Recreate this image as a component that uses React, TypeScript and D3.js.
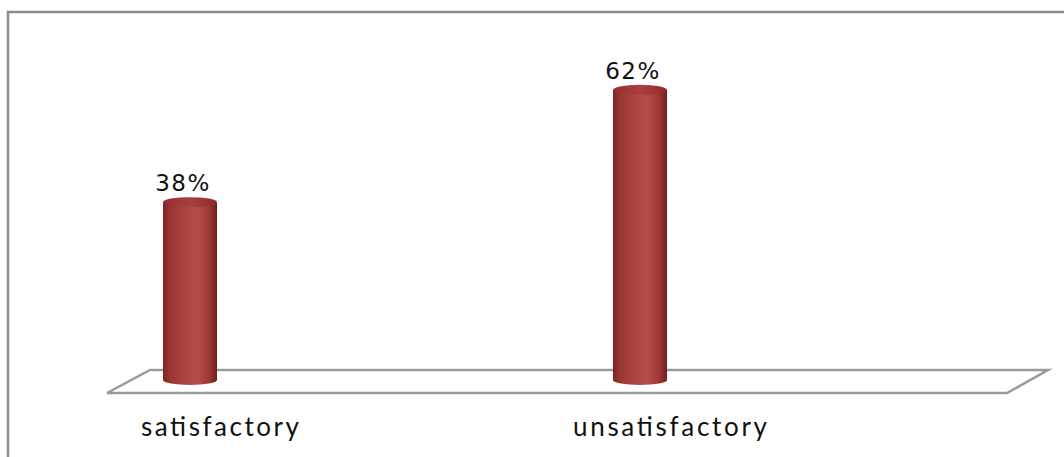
import React from "react";
import * as d3 from "d3";

const categories = ["satisfactory", "unsatisfactory"];
const values = [38, 62];
const valueLabels = ["38%", "62%"];

const W = 1064;
const H = 457;
const BASE_Y = 380;
const RX = 27;
const RY = 5;

export default function App() {
  const x = d3.scalePoint<string>().domain(categories).range([190, 640]);
  const y = d3.scaleLinear().domain([0, 70]).range([BASE_Y, BASE_Y - 70 * 4.68]);

  const floor = d3.line<[number, number]>()([
    [107, 393],
    [150, 370],
    [1048, 370],
    [1007, 393],
    [107, 393],
  ]);

  const labelWidths = [158, 194];

  return (
    <svg
      width={W}
      height={H}
      style={{ position: "absolute", left: 0, top: 0, background: "#fff" }}
    >
      <defs>
        <linearGradient id="cyl" x1="0" x2="1" y1="0" y2="0">
          <stop offset="0%" stopColor="#7e2222" />
          <stop offset="12%" stopColor="#983533" />
          <stop offset="45%" stopColor="#ae4644" />
          <stop offset="65%" stopColor="#b54c49" />
          <stop offset="85%" stopColor="#9d3836" />
          <stop offset="100%" stopColor="#721e1e" />
        </linearGradient>
        <linearGradient id="cylTop" x1="0" x2="1" y1="0" y2="0">
          <stop offset="0%" stopColor="#922f2e" />
          <stop offset="50%" stopColor="#a8403e" />
          <stop offset="100%" stopColor="#8e2c2b" />
        </linearGradient>
      </defs>
      <rect x={8} y={12} width={W + 20} height={H + 20} fill="none" stroke="#8c8c8c" strokeWidth={2.5} />
      <path d={floor || ""} fill="#fff" stroke="#9a9a9a" strokeWidth={2.5} strokeLinejoin="miter" />
      {categories.map((c, i) => {
        const cx = x(c) as number;
        const top = y(values[i]);
        const body = `M${cx - RX},${top} L${cx - RX},${BASE_Y} A${RX},${RY} 0 0 0 ${cx + RX},${BASE_Y} L${cx + RX},${top} Z`;
        return (
          <g key={c}>
            <path d={body} fill="url(#cyl)" />
            <ellipse cx={cx} cy={top} rx={RX} ry={RY} fill="url(#cylTop)" />
            <text
              x={cx - 7}
              y={top - 11}
              textAnchor="middle"
              fontFamily="DejaVu Sans, Verdana, sans-serif"
              fontSize={23}
              letterSpacing={1.5}
              fill="#111"
            >
              {valueLabels[i]}
            </text>
            <text
              x={cx + 30}
              y={436}
              textAnchor="middle"
              fontFamily="Lato, 'Open Sans', sans-serif"
              fontSize={26}
              textLength={labelWidths[i]}
              lengthAdjust="spacing"
              fill="#111"
            >
              {c}
            </text>
          </g>
        );
      })}
    </svg>
  );
}
